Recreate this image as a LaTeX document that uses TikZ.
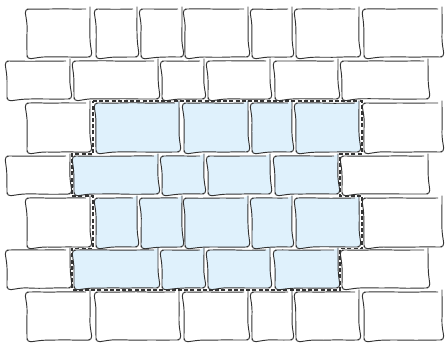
\documentclass[tikz,border=0pt]{standalone}
\usetikzlibrary{decorations.pathmorphing}
\definecolor{brickblue}{HTML}{DFF1FC}
\definecolor{ink}{HTML}{333333}
\newcommand\brk[6]{\node[#6, minimum width=#4-#2, minimum height=#5-#3] (#1) at (#2,#3) {};}
\begin{document}
\begin{tikzpicture}[x=1pt,y=-1pt,
  brick/.style={draw=ink, line width=0.95pt, rounded corners=4pt, fill=white, inner sep=0pt, outer sep=0pt, anchor=north west,
    decorate, decoration={random steps, segment length=12pt, amplitude=0.3pt}},
  bluebrick/.style={brick, fill=brickblue},
  outline/.style={draw=ink, line width=1.5pt, dash pattern=on 4pt off 2.2pt}]
\pgfmathsetseed{7}
\useasboundingbox (0,0) rectangle (446,343);
% row 1
\brk{a1}{27}{9}{90}{57}{brick}
\brk{a2}{96}{9}{137}{57}{brick}
\brk{a3}{141}{9}{182}{57}{brick}
\brk{a4}{185}{9}{248}{57}{brick}
\brk{a5}{252}{9}{292}{57}{brick}
\brk{a6}{296}{9}{359}{57}{brick}
\brk{a7}{364}{9}{442}{57}{brick}
% row 2
\brk{b1}{7}{61}{70}{99}{brick}
\brk{b2}{74}{61}{158}{99}{brick}
\brk{b3}{162}{61}{204}{99}{brick}
\brk{b4}{208}{61}{270}{99}{brick}
\brk{b5}{275}{61}{338}{99}{brick}
\brk{b6}{342}{61}{428}{99}{brick}
% row 3
\brk{c1}{27}{103}{90}{152}{brick}
\brk{c2}{96}{103}{179}{152}{bluebrick}
\brk{c3}{184}{103}{248}{152}{bluebrick}
\brk{c4}{252}{103}{292}{152}{bluebrick}
\brk{c5}{296}{103}{359}{152}{bluebrick}
\brk{c6}{364}{103}{442}{152}{brick}
% row 4
\brk{d1}{7}{156}{70}{194}{brick}
\brk{d2}{74}{156}{158}{194}{bluebrick}
\brk{d3}{162}{156}{204}{194}{bluebrick}
\brk{d4}{208}{156}{270}{194}{bluebrick}
\brk{d5}{275}{156}{338}{194}{bluebrick}
\brk{d6}{342}{156}{428}{194}{brick}
% row 5
\brk{e1}{27}{198}{90}{247}{brick}
\brk{e2}{96}{198}{137}{247}{bluebrick}
\brk{e3}{141}{198}{182}{247}{bluebrick}
\brk{e4}{185}{198}{248}{247}{bluebrick}
\brk{e5}{252}{198}{292}{247}{bluebrick}
\brk{e6}{296}{198}{359}{247}{bluebrick}
\brk{e7}{364}{198}{442}{247}{brick}
% row 6
\brk{f1}{7}{250}{70}{288}{brick}
\brk{f2}{74}{250}{158}{288}{bluebrick}
\brk{f3}{162}{250}{204}{288}{bluebrick}
\brk{f4}{208}{250}{270}{288}{bluebrick}
\brk{f5}{275}{250}{338}{288}{bluebrick}
\brk{f6}{342}{250}{428}{288}{brick}
% row 7
\brk{g1}{27}{292}{90}{340}{brick}
\brk{g2}{96}{292}{179}{340}{brick}
\brk{g3}{184}{292}{248}{340}{brick}
\brk{g4}{252}{292}{292}{340}{brick}
\brk{g5}{296}{292}{359}{340}{brick}
\brk{g6}{364}{292}{442}{340}{brick}
% selection outline
\draw[outline] (93,101) -- (362,101) -- (362,154) -- (340,154) -- (340,196)
  -- (362,196) -- (362,248.5) -- (340,248.5) -- (340,290) -- (72,290)
  -- (72,248.5) -- (93,248.5) -- (93,196) -- (72,196) -- (72,154) -- (93,154) -- cycle;
\end{tikzpicture}
\end{document}
